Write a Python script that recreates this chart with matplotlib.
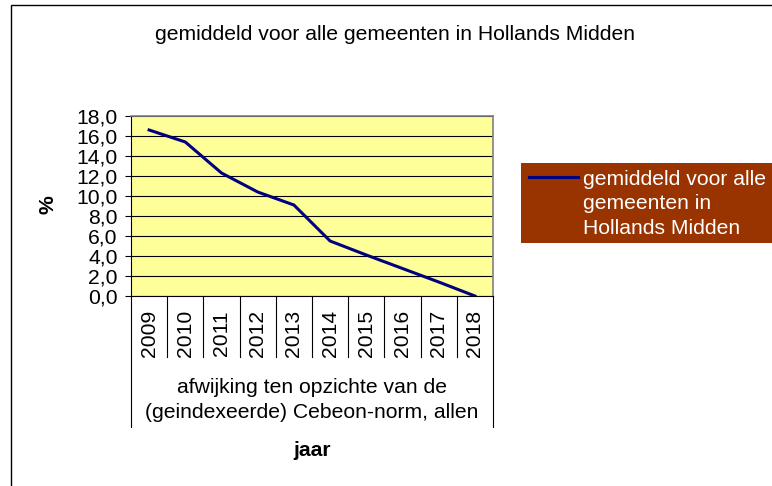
import numpy as np
import matplotlib
matplotlib.use("Agg")
import matplotlib.pyplot as plt
from matplotlib.patches import Rectangle
from matplotlib.lines import Line2D
import matplotlib.transforms as mtransforms

plt.rcParams['font.family'] = ['Liberation Sans', 'DejaVu Sans']

years = ['2009', '2010', '2011', '2012', '2013', '2014', '2015', '2016', '2017', '2018']
values = [16.6, 15.4, 12.3, 10.4, 9.1, 5.5, 4.1, 2.75, 1.4, 0.0]
series_name = 'gemiddeld voor alle gemeenten in Hollands Midden'
legend_label = 'gemiddeld voor alle\ngemeenten in\nHollands Midden'
group_label = 'afwijking ten opzichte van de\n(geindexeerde) Cebeon-norm, allen'
yticks = np.arange(0, 18.1, 2)

W, H = 772, 486
FS = 15.2
fig = plt.figure(figsize=(W / 100, H / 100), dpi=100)

def fx(px):
    return px / W

def fy(py):
    return 1 - py / H

# outer chart border
fig.patches.append(Rectangle((fx(11), fy(490)), 1.0, fy(5) - fy(490), transform=fig.transFigure,
                             fill=False, edgecolor='black', lw=1.0))

ax = fig.add_axes([fx(131), fy(296), fx(493) - fx(131), fy(116) - fy(296)])
ax.set_facecolor('#FFFF99')
x = np.arange(len(years))
ax.plot(x, values, color='#000080', lw=2.2, zorder=3)
ax.set_xlim(-0.5, len(years) - 0.5)
ax.set_ylim(0, 18)
ax.set_yticks(yticks)
ax.set_yticklabels([f'{v:.1f}'.replace('.', ',') for v in yticks], fontsize=FS)
ax.yaxis.grid(True, color='black', lw=0.8)
ax.set_axisbelow(True)
ax.tick_params(axis='y', direction='out', length=4.5, width=0.8, pad=5)
ax.set_xticks([])
for s in ['top', 'right']:
    ax.spines[s].set_color('#808080')
    ax.spines[s].set_linewidth(1.2)
for s in ['left', 'bottom']:
    ax.spines[s].set_color('black')
    ax.spines[s].set_linewidth(0.8)

trans = mtransforms.blended_transform_factory(ax.transData, ax.transAxes)
for i, yr in enumerate(years):
    ax.text(i, -0.208, yr, rotation=90, ha='center', va='center', fontsize=FS, transform=trans)
for k in range(len(years) + 1):
    y_end = -0.728 if k in (0, len(years)) else -0.34
    ax.plot([k - 0.5, k - 0.5], [0, y_end], color='black', lw=0.8, transform=trans, clip_on=False)

ax.text(0.5, -0.578, group_label, ha='center', va='center', fontsize=FS,
        linespacing=1.35, transform=ax.transAxes)
ax.text(0.5, -0.861, 'jaar', ha='center', va='center', fontsize=FS, fontweight='bold',
        transform=ax.transAxes)

fig.text(fx(48), fy(205), '%', rotation=90, ha='center', va='center', fontsize=FS, fontweight='bold')
fig.text(fx(395), fy(35), series_name, ha='center', va='center', fontsize=FS)

# legend
fig.patches.append(Rectangle((fx(521), fy(243)), 1.0, fy(163) - fy(243), transform=fig.transFigure,
                             facecolor='#993300', edgecolor='none'))
fig.lines.append(Line2D([fx(529), fx(578)], [fy(177), fy(177)], transform=fig.transFigure,
                        color='#000080', lw=2.2))
fig.text(fx(583), fy(170), legend_label, ha='left', va='top', fontsize=FS, color='white',
         linespacing=1.35)

fig.savefig('out.png', dpi=100)
